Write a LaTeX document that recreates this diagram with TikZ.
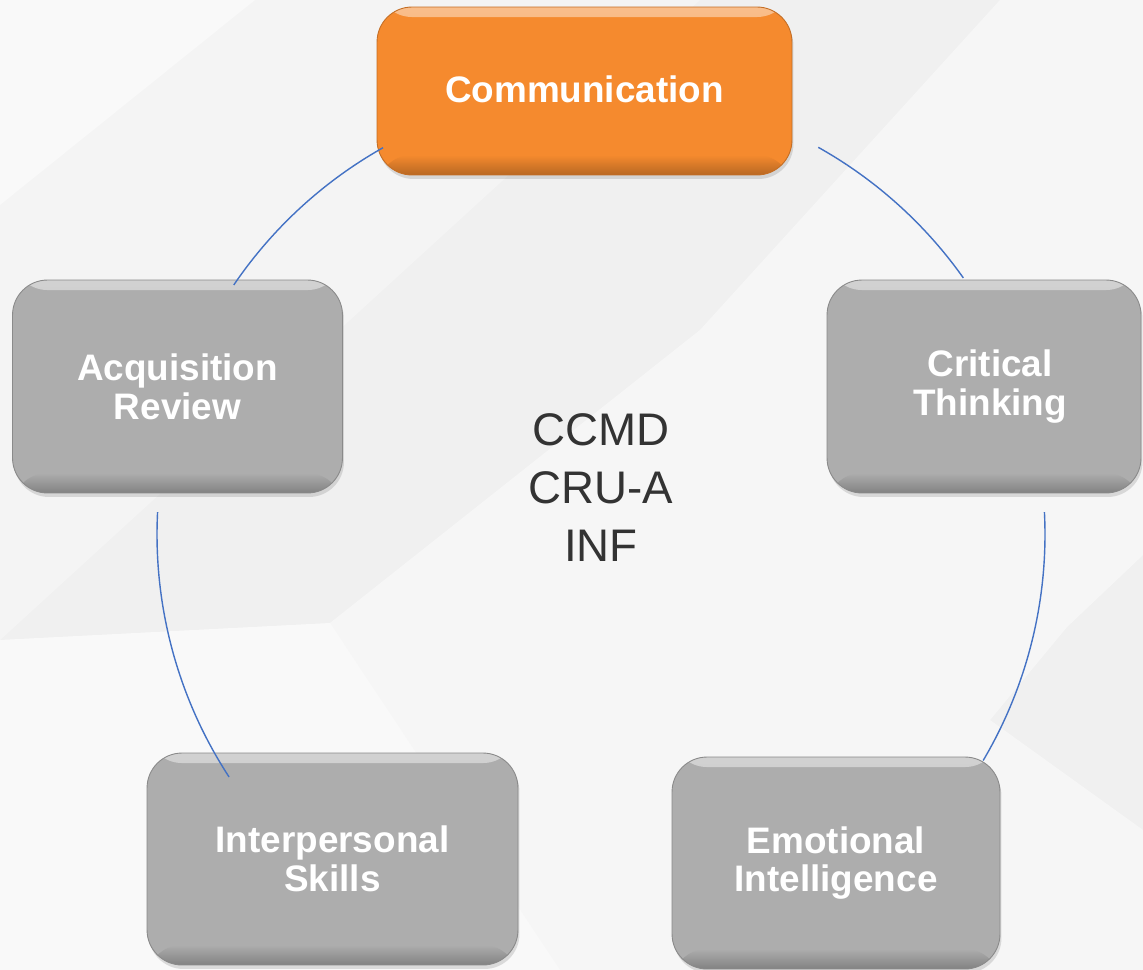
\documentclass[tikz,border=0pt]{standalone}
\usepackage{fontspec}
\setmainfont{Liberation Sans}
\usetikzlibrary{shadows,calc}

\definecolor{boxgray}{RGB}{173,173,173}
\definecolor{commorange}{RGB}{245,138,46}
\definecolor{linkblue}{RGB}{68,114,196}
\definecolor{bggray}{RGB}{240,240,240}
\definecolor{hubtext}{RGB}{51,51,51}

\tikzset{
  pill/.style={rounded corners=0.7cm, align=center, text=white, inner sep=0pt,
    font=\bfseries\fontsize{21}{22}\selectfont,
    fill=#1, draw=#1!80!black, line width=0.5pt,
    drop shadow={shadow xshift=0.03cm, shadow yshift=-0.08cm, opacity=0.25},
    path picture={
      \shade[top color=white, bottom color=#1, opacity=0.45]
        (path picture bounding box.north west) rectangle ([yshift=-0.2cm]path picture bounding box.north east);
      \shade[top color=#1, bottom color=#1!75!black]
        ([yshift=0.4cm]path picture bounding box.south west) rectangle (path picture bounding box.south east);
    }},
  link/.style={draw=linkblue, line width=0.8pt},
  sheen/.style={fill=white, opacity=#1},
}

\begin{document}
\begin{tikzpicture}[x=0.02cm,y=0.02cm]
  \useasboundingbox (0,0) rectangle (1143,-970);
  \clip (0,0) rectangle (1143,-970);

  % backdrop
  \fill[bggray] (0,0) rectangle (1143,-970);
  \fill[sheen=.6] (0,0) -- (255,0) -- (0,-205) -- cycle;
  \fill[sheen=.3] (255,0) -- (700,0) -- (0,-640) -- (0,-205) -- cycle;
  \fill[sheen=.45] (0,-970) -- (0,-640) -- (330,-623) -- (700,-330) -- (1000,0) -- (1143,0)
    -- (1143,-555) -- (1067,-627) -- (990,-720) -- (1143,-830) -- (1143,-970) -- cycle;
  \fill[sheen=.35] (330,-623) -- (560,-970) -- (0,-970) -- (0,-640) -- cycle;

  % boxes
  \node[pill=commorange, minimum width=8.3cm, minimum height=3.36cm] (comm) at (584.5,-91) {\raisebox{2pt}{Communication}};
  \node[pill=boxgray, minimum width=6.6cm, minimum height=4.26cm] (acq) at (177.5,-386.5) {Acquisition\\Review};
  \node[pill=boxgray, minimum width=6.28cm, minimum height=4.26cm] (crit) at (984,-386.5) {\hspace*{0.24cm}Critical\\\hspace*{0.24cm}Thinking};
  \node[pill=boxgray, minimum width=7.42cm, minimum height=4.24cm] (inter) at (332.5,-859) {Interpersonal\\Skills};
  \node[pill=boxgray, minimum width=6.56cm, minimum height=4.24cm] (emo) at (836,-863) {Emotional\\Intelligence};

  \node[text=hubtext, align=center, font=\fontsize{26}{33}\selectfont] (core) at (601,-488) {CCMD\\CRU-A\\INF};

  % ring
  \coordinate (hub) at (601,-534.5);
  \coordinate (r1) at ($(hub)+(119.4:444)$);
  \coordinate (r2) at ($(hub)+(60.7:444)$);
  \coordinate (r3) at ($(hub)+(2.9:444)$);
  \coordinate (r4) at ($(hub)+(177.1:444)$);
  \draw[link] (r1) arc[start angle=119.4, end angle=145.8, radius=444];
  \draw[link] (r2) arc[start angle=60.7, end angle=35.3, radius=444];
  \draw[link] (r3) arc[start angle=2.9, end angle=-30.6, radius=444];
  \draw[link] (r4) arc[start angle=177.1, end angle=213.1, radius=444];
\end{tikzpicture}
\end{document}
